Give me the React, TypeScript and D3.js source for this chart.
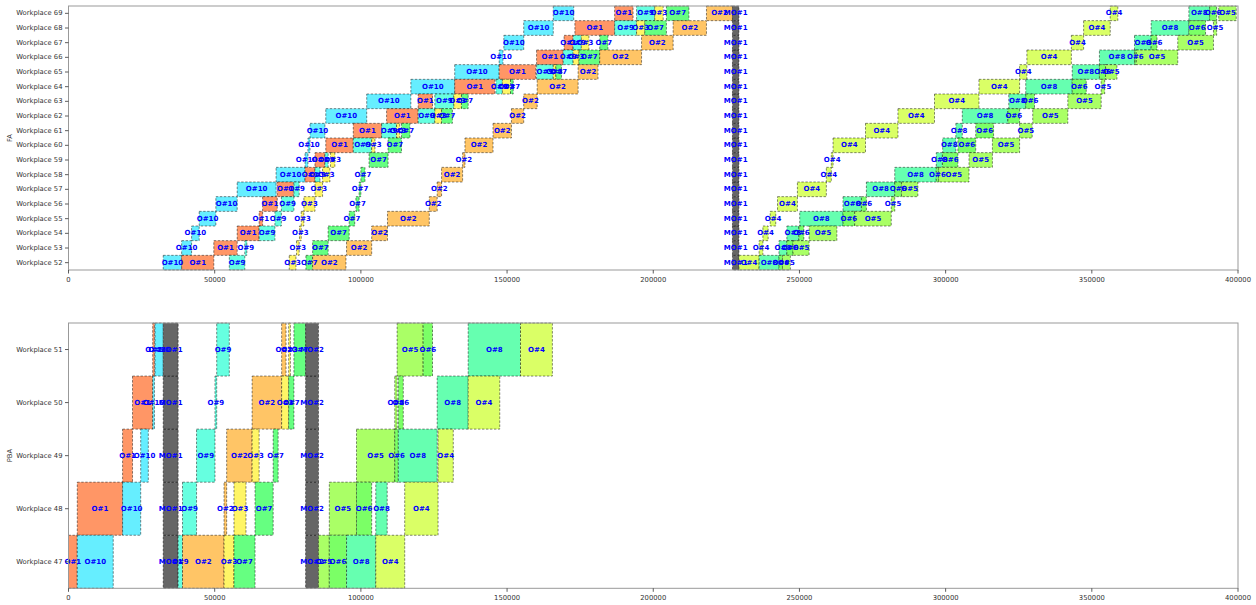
import React from "react";
import * as d3 from "d3";

const WIDTH = 1256;
const HEIGHT = 605;

// Workplaces, listed bottom row first
const faWorkplaces = [
  "Workplace 52", "Workplace 53", "Workplace 54", "Workplace 55", "Workplace 56", "Workplace 57",
  "Workplace 58", "Workplace 59", "Workplace 60", "Workplace 61", "Workplace 62", "Workplace 63",
  "Workplace 64", "Workplace 65", "Workplace 66", "Workplace 67", "Workplace 68", "Workplace 69",
];
const pbaWorkplaces = ["Workplace 47", "Workplace 48", "Workplace 49", "Workplace 50", "Workplace 51"];

const xTicks = [0, 50000, 100000, 150000, 200000, 250000, 300000, 350000, 400000];

// FA line: one [start, end] per workplace, in faWorkplaces order
const faO10: [number, number][] = [
  [32400, 38700], [38700, 42100], [42100, 44700], [44700, 50400], [50400, 57700], [57700, 71000],
  [71000, 80900], [80900, 81900], [81900, 82600], [82600, 87700], [88000, 102000], [102000, 117100],
  [117100, 132100], [132100, 147300], [147300, 148600], [148900, 155700], [155700, 165800], [165800, 172800],
];
const faO1: [number, number][] = [
  [38700, 49700], [49700, 57700], [57700, 65200], [65200, 66400], [66400, 71400], [71400, 76900],
  [80900, 84300], [84300, 87700], [88000, 97400], [97400, 107100], [108800, 119600], [119600, 124500],
  [132100, 145800], [147300, 159800], [160100, 169200], [169500, 172600], [173200, 186800], [186800, 193100],
];
const faO9: [number, number][] = [
  [55000, 60300], [60300, 61000], [65200, 70600], [70600, 72800], [72800, 77100], [77100, 78900],
  [84300, 86000], [87700, 88800], [97400, 103700], [107100, 112200], [119600, 125300], [125300, 131800],
  [146200, 148400], [160100, 165800], [169200, 172600], [172600, 175400], [186800, 194300], [194300, 200500],
];
const faO3: [number, number][] = [
  [75500, 77800], [78000, 78900], [79000, 79600], [79600, 80500], [80500, 84300], [84300, 86900],
  [86900, 89400], [89600, 91100], [103700, 104800], [112200, 113300], [125300, 127600], [131800, 134400],
  [148400, 151200], [165800, 166700], [172600, 174600], [175400, 178000], [194300, 197100], [200500, 203400],
];
const faO7: [number, number][] = [
  [81200, 83500], [83500, 88800], [88800, 96000], [96000, 97900], [98300, 99400], [99400, 100000],
  [100000, 101400], [102800, 109300], [109300, 113900], [113900, 116800], [127600, 131300], [134400, 136700],
  [151200, 152100], [166700, 168600], [174600, 181700], [181700, 184500], [197100, 204500], [204500, 212200],
];
const faO2: [number, number][] = [
  [83500, 94900], [95100, 103700], [103700, 109100], [109100, 123400], [123400, 126100], [126100, 127600],
  [127600, 134800], [134800, 135600], [135600, 145200], [145200, 151500], [151500, 155700], [155700, 160300],
  [160300, 174300], [174300, 181100], [181700, 196000], [196000, 206800], [206800, 218200], [218200, 227100],
];
const faMO1: [number, number][] = faWorkplaces.map(() => [227100, 229300]);
const faO4: [number, number][] = [
  [229300, 236200], [236200, 237500], [237500, 239300], [240000, 241900], [242500, 249300], [249300, 259200],
  [259200, 260900], [260900, 261500], [261500, 272600], [272600, 283700], [283700, 296200], [296200, 311400],
  [311400, 325300], [325300, 327800], [327800, 343000], [343000, 347200], [347200, 356300], [356300, 358900],
];
const faO8: [number, number][] = [
  [236200, 243000], [243000, 245700], [245700, 249800], [250100, 264900], [264900, 271200], [272900, 282600],
  [282600, 296800], [296800, 298900], [299000, 303500], [303500, 305700], [305700, 321300], [321600, 327400],
  [327400, 343300], [343300, 352600], [352600, 364600], [364600, 370300], [370300, 383200], [383200, 390300],
];
const faO6: [number, number][] = [
  [243000, 244200], [245700, 247800], [249800, 251500], [264900, 268900], [271200, 272900], [282600, 284900],
  [296800, 297600], [298900, 304200], [304200, 310300], [310300, 316400], [321300, 325300], [327400, 330400],
  [343300, 348100], [352600, 354700], [364600, 365200], [370300, 372300], [383200, 388900], [390300, 392700],
];
const faO5: [number, number][] = [
  [244200, 246900], [247800, 253300], [253300, 262800], [268900, 281400], [281400, 282600], [284900, 290500],
  [297600, 308000], [308000, 316000], [316000, 325300], [325300, 329600], [329800, 341800], [341800, 353200],
  [353200, 354400], [354700, 358600], [365200, 379400], [379400, 391600], [391600, 392700], [393400, 399400],
];

// PBA line: one [start, end] per workplace, in pbaWorkplaces order
const pbaO1: [number, number][] = [[0, 3000], [3000, 18500], [18500, 21900], [21900, 28800], [28800, 29400]];
const pbaO10: [number, number][] = [[3000, 15300], [18500, 24700], [24700, 27300], [28800, 29400], [29600, 32400]];
const pbaMO1: [number, number][] = pbaWorkplaces.map(() => [32400, 37500]);
const pbaO9: [number, number][] = [[37500, 39000], [39000, 43800], [43800, 50100], [50100, 50700], [50700, 55000]];
const pbaO2: [number, number][] = [[39000, 53200], [53200, 54100], [54100, 62800], [62800, 72900], [72900, 74400]];
const pbaO3: [number, number][] = [[53200, 56600], [56600, 60700], [62800, 65200], [72900, 75300], [75300, 75900]];
const pbaO7: [number, number][] = [[56600, 63800], [63800, 70000], [70000, 71700], [75300, 77100], [77100, 81100]];
const pbaMO2: [number, number][] = pbaWorkplaces.map(() => [81100, 85500]);
const pbaO5: [number, number][] = [[85500, 89200], [89200, 98500], [98500, 111600], [111600, 112400], [112400, 121300]];
const pbaO6: [number, number][] = [[89200, 95100], [98500, 103700], [111600, 112800], [112800, 114500], [121300, 124500]];
const pbaO8: [number, number][] = [[95100, 105100], [105100, 109000], [112800, 126100], [126100, 136700], [136700, 154600]];
const pbaO4: [number, number][] = [[105100, 115000], [115000, 126400], [126400, 131600], [136700, 147500], [154600, 165500]];

const faSchedule = [
  { op: "O#10", spans: faO10 }, { op: "O#1", spans: faO1 }, { op: "O#9", spans: faO9 },
  { op: "O#3", spans: faO3 }, { op: "O#7", spans: faO7 }, { op: "O#2", spans: faO2 },
  { op: "MO#1", spans: faMO1 }, { op: "O#4", spans: faO4 }, { op: "O#8", spans: faO8 },
  { op: "O#6", spans: faO6 }, { op: "O#5", spans: faO5 },
];
const pbaSchedule = [
  { op: "O#1", spans: pbaO1 }, { op: "O#10", spans: pbaO10 }, { op: "MO#1", spans: pbaMO1 },
  { op: "O#9", spans: pbaO9 }, { op: "O#2", spans: pbaO2 }, { op: "O#3", spans: pbaO3 },
  { op: "O#7", spans: pbaO7 }, { op: "MO#2", spans: pbaMO2 }, { op: "O#5", spans: pbaO5 },
  { op: "O#6", spans: pbaO6 }, { op: "O#8", spans: pbaO8 }, { op: "O#4", spans: pbaO4 },
];

// operation fills (hsv colormap blended at 60% over white); maintenance in grey
const opColor: Record<string, string> = {
  "O#1": "#ff9666",
  "O#2": "#ffc566",
  "O#3": "#fff566",
  "O#4": "#daff66",
  "O#5": "#aaff66",
  "O#6": "#7bff66",
  "O#7": "#66ff81",
  "O#8": "#66ffb0",
  "O#9": "#66ffe0",
  "O#10": "#66eeff",
  "MO#1": "#666666",
  "MO#2": "#666666",
};

const FONT = "DejaVu Sans, sans-serif";
const LEFT = 68.5;
const RIGHT = 1238;

type Task = { op: string; spans: [number, number][] };

function GanttPanel({
  top, bottom, workplaces, schedule, title,
}: { top: number; bottom: number; workplaces: string[]; schedule: Task[]; title: string }) {
  const x = d3.scaleLinear().domain([0, 400000]).range([LEFT, RIGHT]);
  const y = d3.scaleBand<string>().domain([...workplaces].reverse()).range([top, bottom]).padding(0);
  const bw = y.bandwidth();
  const fmt = d3.format("d");

  const items = schedule.flatMap((t) =>
    t.spans.map(([s, e], i) => ({ op: t.op, s, e, wp: workplaces[i] }))
  );

  return (
    <g>
      {items.map((d, k) => (
        <rect
          key={"b" + k}
          x={x(d.s)}
          y={y(d.wp)}
          width={Math.max(0, x(d.e) - x(d.s))}
          height={bw}
          fill={opColor[d.op]}
          stroke="#000"
          strokeOpacity={0.6}
          strokeWidth={0.8}
          strokeDasharray="2.4 1.6"
        />
      ))}
      {items.map((d, k) => (
        <text
          key={"t" + k}
          x={(x(d.s) + x(d.e)) / 2}
          y={(y(d.wp) as number) + bw / 2}
          textAnchor="middle"
          dominantBaseline="central"
          fontFamily={FONT}
          fontSize={7}
          fontWeight="bold"
          fill="#0000ff"
        >
          {d.op}
        </text>
      ))}
      <rect x={LEFT} y={top} width={RIGHT - LEFT} height={bottom - top} fill="none" stroke="#999" strokeWidth={1} />
      {workplaces.map((w) => {
        const cy = (y(w) as number) + bw / 2;
        return (
          <g key={w}>
            <line x1={LEFT - 3.5} x2={LEFT} y1={cy} y2={cy} stroke="#333" strokeWidth={0.8} />
            <text x={LEFT - 6} y={cy} textAnchor="end" dominantBaseline="central" fontFamily={FONT} fontSize={6.8} fill="#333">
              {w}
            </text>
          </g>
        );
      })}
      {xTicks.map((t) => (
        <g key={t}>
          <line x1={x(t)} x2={x(t)} y1={bottom} y2={bottom + 3.5} stroke="#333" strokeWidth={0.8} />
          <text x={x(t)} y={bottom + 10} textAnchor="middle" dominantBaseline="central" fontFamily={FONT} fontSize={6.8} fill="#333">
            {fmt(t)}
          </text>
        </g>
      ))}
      <text
        transform={`translate(10,${(top + bottom) / 2}) rotate(-90)`}
        textAnchor="middle"
        dominantBaseline="central"
        fontFamily={FONT}
        fontSize={6.8}
        fill="#333"
      >
        {title}
      </text>
    </g>
  );
}

export default function App() {
  return (
    <svg
      width={WIDTH}
      height={HEIGHT}
      style={{ position: "absolute", left: 0, top: 0, display: "block", background: "#fff" }}
    >
      <rect width={WIDTH} height={HEIGHT} fill="#fff" />
      <GanttPanel top={6} bottom={270} workplaces={faWorkplaces} schedule={faSchedule} title="FA" />
      <GanttPanel top={323} bottom={588.3} workplaces={pbaWorkplaces} schedule={pbaSchedule} title="PBA" />
    </svg>
  );
}
